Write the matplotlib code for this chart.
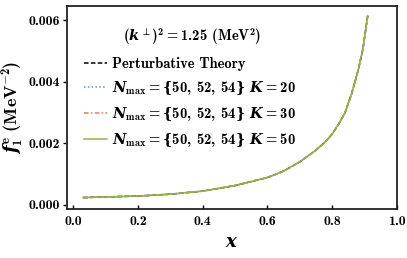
import matplotlib
matplotlib.use('Agg')
import matplotlib.pyplot as plt

plt.rcParams['mathtext.fontset'] = 'custom'
plt.rcParams['mathtext.rm'] = 'cmb10'
plt.rcParams['mathtext.bf'] = 'cmb10'
plt.rcParams['mathtext.sf'] = 'DejaVu Serif:bold'
plt.rcParams['mathtext.it'] = 'DejaVu Serif:italic:bold'
plt.rcParams['font.family'] = ['cmb10', 'DejaVu Serif']
plt.rcParams['axes.unicode_minus'] = False

# values
x_vals = [0.03, 0.1, 0.2, 0.3, 0.4, 0.5, 0.6, 0.65, 0.7, 0.75, 0.78, 0.8,
          0.82, 0.84, 0.86, 0.88, 0.895, 0.91]
pert_y = [0.00024, 0.00026, 0.00029, 0.00035, 0.00045, 0.00063, 0.00089,
          0.00110, 0.00140, 0.00178, 0.00206, 0.00230, 0.00262, 0.00300,
          0.00360, 0.00435, 0.00505, 0.00614]
k20_y = pert_y
k30_y = pert_y
k50_y = pert_y

nmax = r'N_{\mathrm{max}}=\mathsf{\{}50,\,52,\,54\mathsf{\}}\ K='
labels = ['Perturbative Theory',
          '$' + nmax + '20$',
          '$' + nmax + '30$',
          '$' + nmax + '50$']

fig = plt.figure(figsize=(4.07, 2.58), dpi=100)
ax = fig.add_axes([0.165, 0.19, 0.81, 0.787])

ax.plot(x_vals, pert_y, color='black', ls=(0, (3, 1.5)), lw=1.1, label=labels[0])
ax.plot(x_vals, k20_y, color='#5b8fd0', ls=(0, (1, 1.5)), lw=1.1, label=labels[1])
ax.plot(x_vals, k30_y, color='#e87a50', ls=(0, (3, 1.5, 1, 1.5)), lw=1.1, label=labels[2])
ax.plot(x_vals, k50_y, color='#8fb83a', ls='-', lw=1.1, label=labels[3])

ax.set_xlim(-0.019, 1.0)
ax.set_ylim(-0.00013, 0.00646)
ax.set_xticks([0.0, 0.2, 0.4, 0.6, 0.8, 1.0])
ax.set_yticks([0.0, 0.002, 0.004, 0.006])
ax.xaxis.set_major_formatter(matplotlib.ticker.FormatStrFormatter('%.1f'))
ax.yaxis.set_major_formatter(matplotlib.ticker.FormatStrFormatter('%.3f'))
ax.tick_params(axis='x', direction='in', length=3, width=1, labelsize=10, pad=5)
ax.tick_params(axis='y', direction='out', length=3, width=1, labelsize=10, pad=2)
for s in ax.spines.values():
    s.set_linewidth(1.3)
    s.set_color('#222222')

ax.set_xlabel(r'$x$', fontsize=13, labelpad=5)
ax.set_ylabel(r'$f_1^{\mathrm{e}}\ (\mathrm{MeV}^{-2})$', fontsize=13, labelpad=2)

leg = ax.legend(loc='upper left', bbox_to_anchor=(0.02, 0.80), frameon=False,
                fontsize=10.5, handlelength=1.6, handletextpad=0.3,
                labelspacing=0.55, borderpad=0.2)
ax.text(0.378, 0.85, r'$(k^{\perp})^2=1.25\ (\mathrm{MeV}^2)$', transform=ax.transAxes,
        ha='center', va='center', fontsize=10.5)

fig.savefig('out.png', dpi=100)
